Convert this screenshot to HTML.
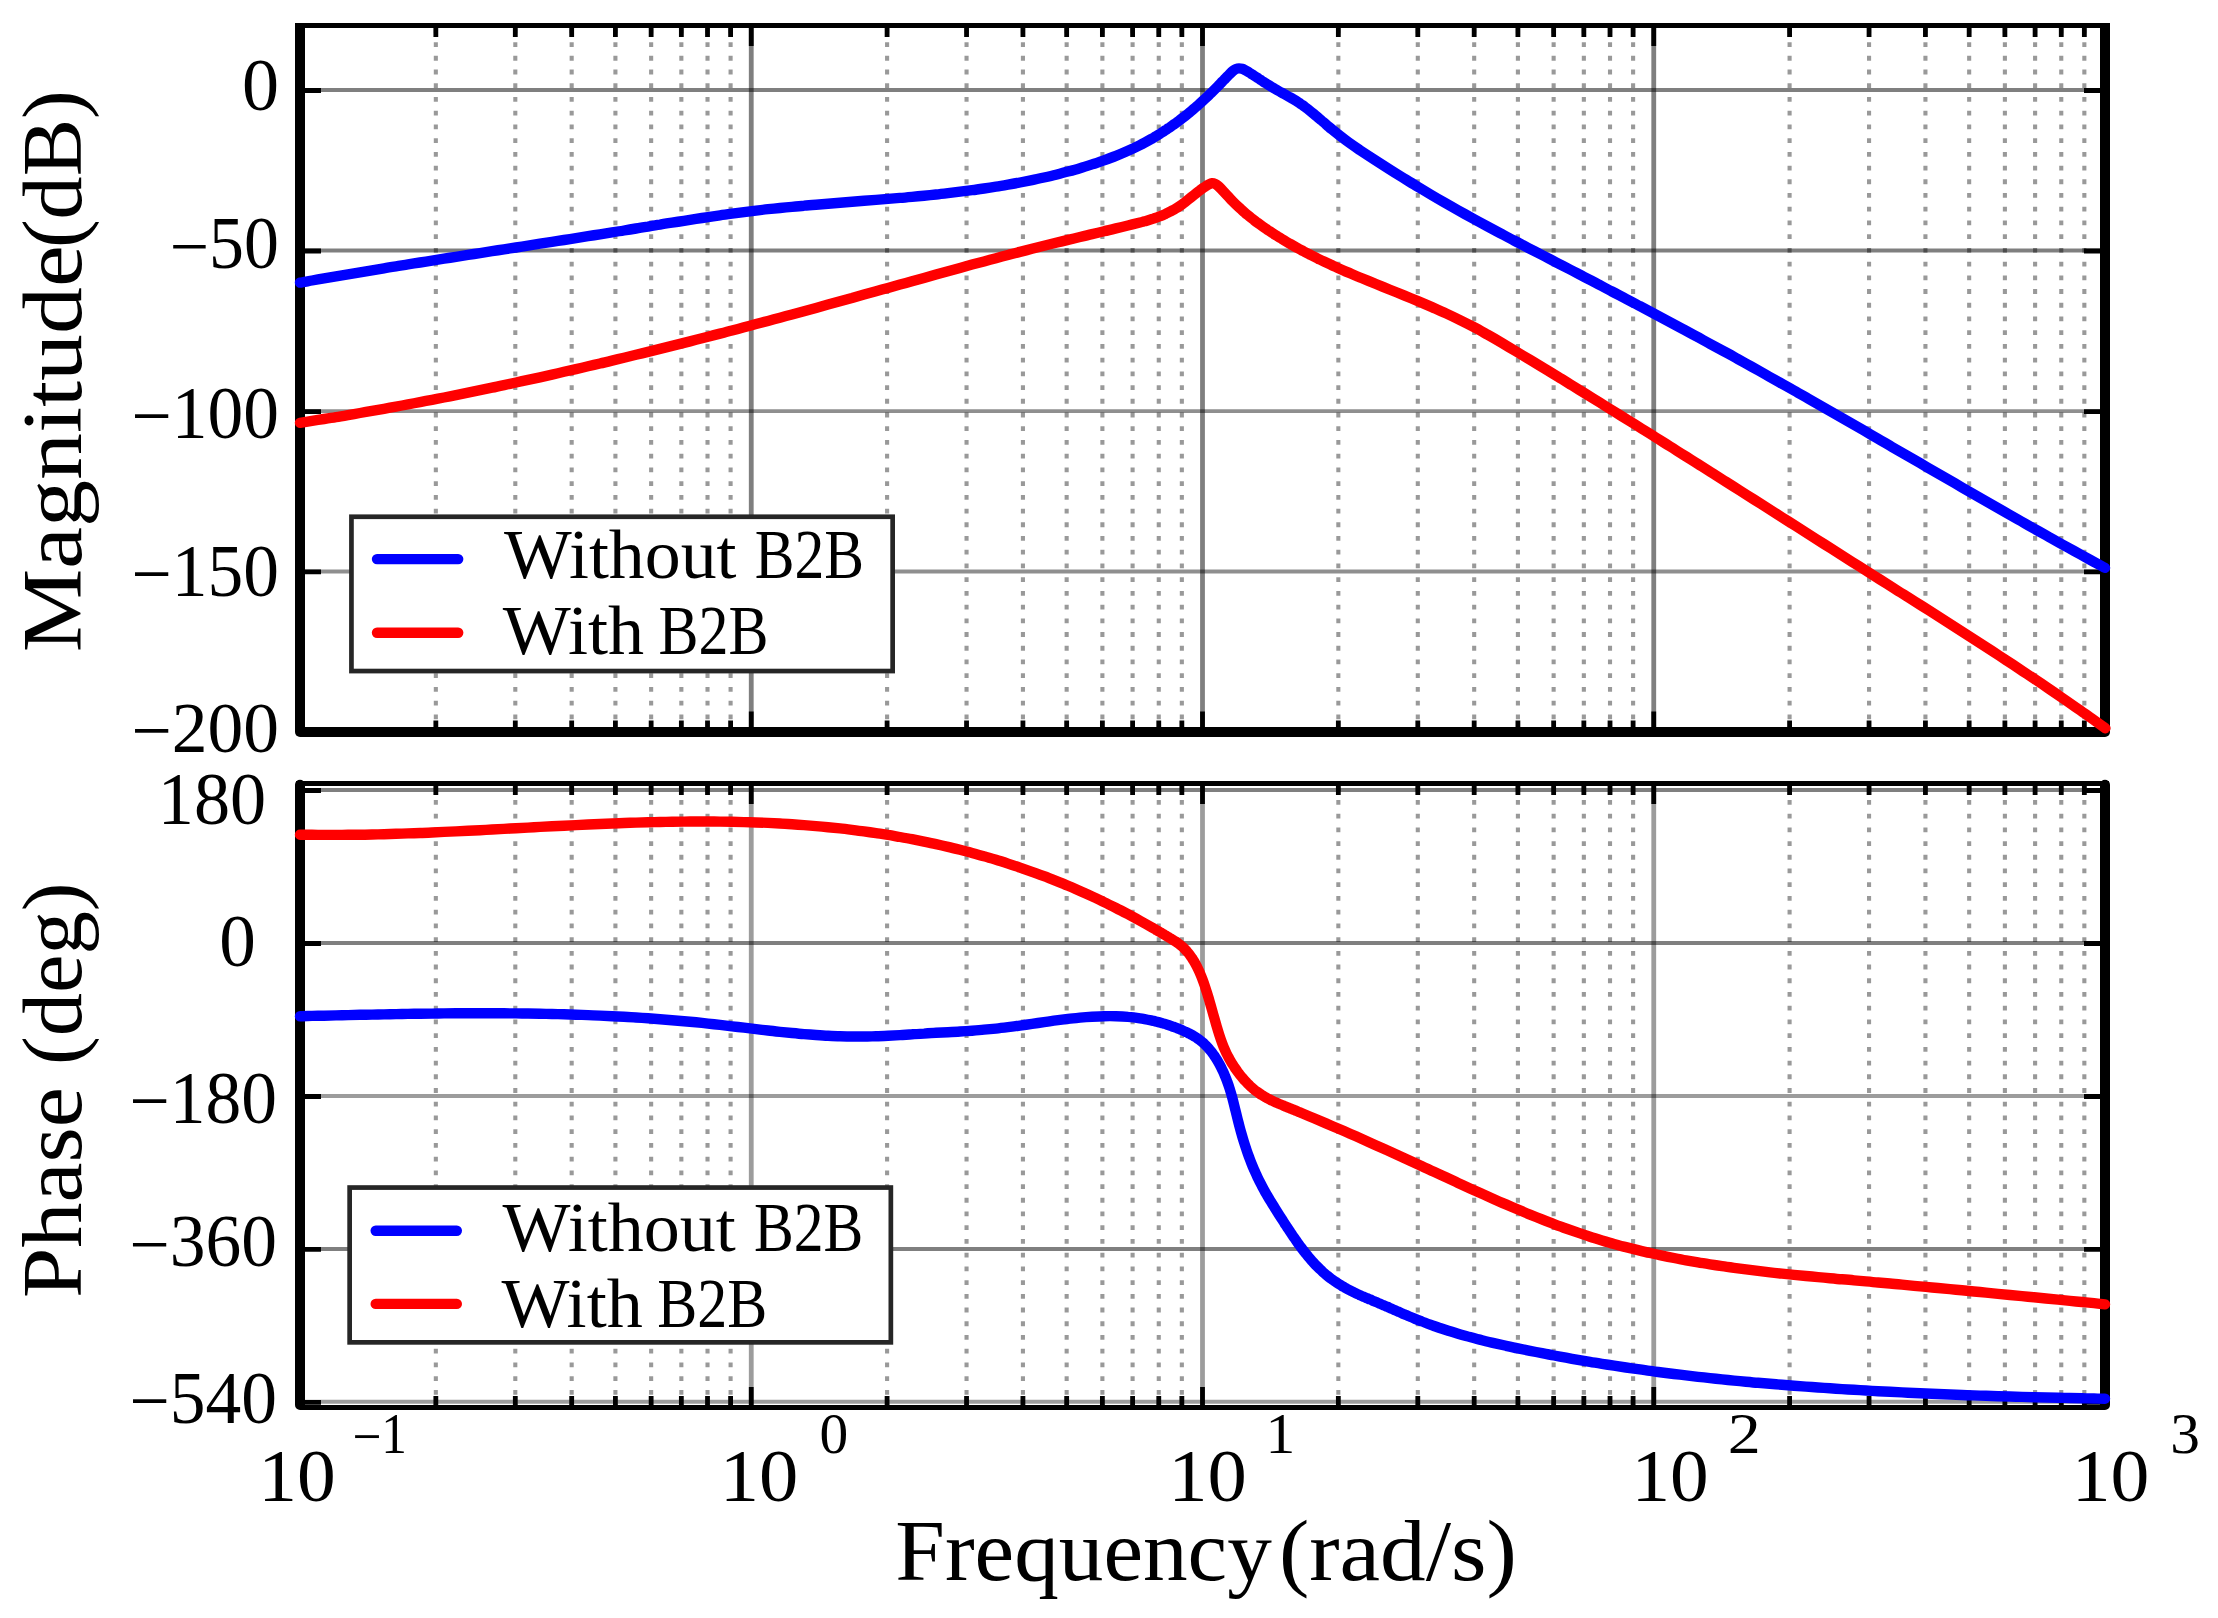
<!DOCTYPE html>
<html lang="en"><head><meta charset="utf-8"><title>Bode plot</title>
<style>html,body{margin:0;padding:0;background:#fff}svg{display:block}text{font-family:"Liberation Serif","DejaVu Serif",serif;fill:#000}</style></head><body>
<svg width="2218" height="1618" viewBox="0 0 2218 1618">
<rect width="2218" height="1618" fill="#fff"/>
<g id="mag">
<line x1="435.84" y1="732.95" x2="435.84" y2="25.50" stroke="#000" stroke-opacity="0.4" stroke-width="4.1" stroke-dasharray="4.8 8.92"/>
<line x1="515.30" y1="732.95" x2="515.30" y2="25.50" stroke="#000" stroke-opacity="0.4" stroke-width="4.1" stroke-dasharray="4.8 8.92"/>
<line x1="571.68" y1="732.95" x2="571.68" y2="25.50" stroke="#000" stroke-opacity="0.4" stroke-width="4.1" stroke-dasharray="4.8 8.92"/>
<line x1="615.41" y1="732.95" x2="615.41" y2="25.50" stroke="#000" stroke-opacity="0.4" stroke-width="4.1" stroke-dasharray="4.8 8.92"/>
<line x1="651.14" y1="732.95" x2="651.14" y2="25.50" stroke="#000" stroke-opacity="0.4" stroke-width="4.1" stroke-dasharray="4.8 8.92"/>
<line x1="681.35" y1="732.95" x2="681.35" y2="25.50" stroke="#000" stroke-opacity="0.4" stroke-width="4.1" stroke-dasharray="4.8 8.92"/>
<line x1="707.52" y1="732.95" x2="707.52" y2="25.50" stroke="#000" stroke-opacity="0.4" stroke-width="4.1" stroke-dasharray="4.8 8.92"/>
<line x1="730.60" y1="732.95" x2="730.60" y2="25.50" stroke="#000" stroke-opacity="0.4" stroke-width="4.1" stroke-dasharray="4.8 8.92"/>
<line x1="887.09" y1="732.95" x2="887.09" y2="25.50" stroke="#000" stroke-opacity="0.4" stroke-width="4.1" stroke-dasharray="4.8 8.92"/>
<line x1="966.55" y1="732.95" x2="966.55" y2="25.50" stroke="#000" stroke-opacity="0.4" stroke-width="4.1" stroke-dasharray="4.8 8.92"/>
<line x1="1022.93" y1="732.95" x2="1022.93" y2="25.50" stroke="#000" stroke-opacity="0.4" stroke-width="4.1" stroke-dasharray="4.8 8.92"/>
<line x1="1066.66" y1="732.95" x2="1066.66" y2="25.50" stroke="#000" stroke-opacity="0.4" stroke-width="4.1" stroke-dasharray="4.8 8.92"/>
<line x1="1102.39" y1="732.95" x2="1102.39" y2="25.50" stroke="#000" stroke-opacity="0.4" stroke-width="4.1" stroke-dasharray="4.8 8.92"/>
<line x1="1132.60" y1="732.95" x2="1132.60" y2="25.50" stroke="#000" stroke-opacity="0.4" stroke-width="4.1" stroke-dasharray="4.8 8.92"/>
<line x1="1158.77" y1="732.95" x2="1158.77" y2="25.50" stroke="#000" stroke-opacity="0.4" stroke-width="4.1" stroke-dasharray="4.8 8.92"/>
<line x1="1181.85" y1="732.95" x2="1181.85" y2="25.50" stroke="#000" stroke-opacity="0.4" stroke-width="4.1" stroke-dasharray="4.8 8.92"/>
<line x1="1338.34" y1="732.95" x2="1338.34" y2="25.50" stroke="#000" stroke-opacity="0.4" stroke-width="4.1" stroke-dasharray="4.8 8.92"/>
<line x1="1417.80" y1="732.95" x2="1417.80" y2="25.50" stroke="#000" stroke-opacity="0.4" stroke-width="4.1" stroke-dasharray="4.8 8.92"/>
<line x1="1474.18" y1="732.95" x2="1474.18" y2="25.50" stroke="#000" stroke-opacity="0.4" stroke-width="4.1" stroke-dasharray="4.8 8.92"/>
<line x1="1517.91" y1="732.95" x2="1517.91" y2="25.50" stroke="#000" stroke-opacity="0.4" stroke-width="4.1" stroke-dasharray="4.8 8.92"/>
<line x1="1553.64" y1="732.95" x2="1553.64" y2="25.50" stroke="#000" stroke-opacity="0.4" stroke-width="4.1" stroke-dasharray="4.8 8.92"/>
<line x1="1583.85" y1="732.95" x2="1583.85" y2="25.50" stroke="#000" stroke-opacity="0.4" stroke-width="4.1" stroke-dasharray="4.8 8.92"/>
<line x1="1610.02" y1="732.95" x2="1610.02" y2="25.50" stroke="#000" stroke-opacity="0.4" stroke-width="4.1" stroke-dasharray="4.8 8.92"/>
<line x1="1633.10" y1="732.95" x2="1633.10" y2="25.50" stroke="#000" stroke-opacity="0.4" stroke-width="4.1" stroke-dasharray="4.8 8.92"/>
<line x1="1789.59" y1="732.95" x2="1789.59" y2="25.50" stroke="#000" stroke-opacity="0.4" stroke-width="4.1" stroke-dasharray="4.8 8.92"/>
<line x1="1869.05" y1="732.95" x2="1869.05" y2="25.50" stroke="#000" stroke-opacity="0.4" stroke-width="4.1" stroke-dasharray="4.8 8.92"/>
<line x1="1925.43" y1="732.95" x2="1925.43" y2="25.50" stroke="#000" stroke-opacity="0.4" stroke-width="4.1" stroke-dasharray="4.8 8.92"/>
<line x1="1969.16" y1="732.95" x2="1969.16" y2="25.50" stroke="#000" stroke-opacity="0.4" stroke-width="4.1" stroke-dasharray="4.8 8.92"/>
<line x1="2004.89" y1="732.95" x2="2004.89" y2="25.50" stroke="#000" stroke-opacity="0.4" stroke-width="4.1" stroke-dasharray="4.8 8.92"/>
<line x1="2035.10" y1="732.95" x2="2035.10" y2="25.50" stroke="#000" stroke-opacity="0.4" stroke-width="4.1" stroke-dasharray="4.8 8.92"/>
<line x1="2061.27" y1="732.95" x2="2061.27" y2="25.50" stroke="#000" stroke-opacity="0.4" stroke-width="4.1" stroke-dasharray="4.8 8.92"/>
<line x1="2084.35" y1="732.95" x2="2084.35" y2="25.50" stroke="#000" stroke-opacity="0.4" stroke-width="4.1" stroke-dasharray="4.8 8.92"/>
<line x1="751.25" y1="732.00" x2="751.25" y2="25.50" stroke="#000" stroke-opacity="0.5" stroke-width="4.8"/>
<line x1="1202.50" y1="732.00" x2="1202.50" y2="25.50" stroke="#000" stroke-opacity="0.5" stroke-width="4.8"/>
<line x1="1653.75" y1="732.00" x2="1653.75" y2="25.50" stroke="#000" stroke-opacity="0.5" stroke-width="4.8"/>
<line x1="300.0" y1="90.00" x2="2105.0" y2="90.00" stroke="#000" stroke-opacity="0.5" stroke-width="3.95"/>
<line x1="300.0" y1="250.50" x2="2105.0" y2="250.50" stroke="#000" stroke-opacity="0.5" stroke-width="3.95"/>
<line x1="300.0" y1="411.10" x2="2105.0" y2="411.10" stroke="#000" stroke-opacity="0.44" stroke-width="3.95"/>
<line x1="300.0" y1="571.40" x2="2105.0" y2="571.40" stroke="#000" stroke-opacity="0.44" stroke-width="3.95"/>
<path d="M300.0,23.00V732.00M2105.0,23.00V732.00" stroke="#000" stroke-width="10" fill="none"/>
<circle cx="300.0" cy="732.00" r="5"/><circle cx="2105.0" cy="732.00" r="5"/>
<path d="M296.0,25.5H2109.0" stroke="#000" stroke-width="5" fill="none"/>
<path d="M300.0,732.0H2105.0" stroke="#000" stroke-width="10" fill="none"/>
<path d="M435.84,25.5v11.5M435.84,732.0v-11.5" stroke="#000" stroke-width="4.8"/>
<path d="M515.30,25.5v11.5M515.30,732.0v-11.5" stroke="#000" stroke-width="4.8"/>
<path d="M571.68,25.5v11.5M571.68,732.0v-11.5" stroke="#000" stroke-width="4.8"/>
<path d="M615.41,25.5v11.5M615.41,732.0v-11.5" stroke="#000" stroke-width="4.8"/>
<path d="M651.14,25.5v11.5M651.14,732.0v-11.5" stroke="#000" stroke-width="4.8"/>
<path d="M681.35,25.5v11.5M681.35,732.0v-11.5" stroke="#000" stroke-width="4.8"/>
<path d="M707.52,25.5v11.5M707.52,732.0v-11.5" stroke="#000" stroke-width="4.8"/>
<path d="M730.60,25.5v11.5M730.60,732.0v-11.5" stroke="#000" stroke-width="4.8"/>
<path d="M887.09,25.5v11.5M887.09,732.0v-11.5" stroke="#000" stroke-width="4.8"/>
<path d="M966.55,25.5v11.5M966.55,732.0v-11.5" stroke="#000" stroke-width="4.8"/>
<path d="M1022.93,25.5v11.5M1022.93,732.0v-11.5" stroke="#000" stroke-width="4.8"/>
<path d="M1066.66,25.5v11.5M1066.66,732.0v-11.5" stroke="#000" stroke-width="4.8"/>
<path d="M1102.39,25.5v11.5M1102.39,732.0v-11.5" stroke="#000" stroke-width="4.8"/>
<path d="M1132.60,25.5v11.5M1132.60,732.0v-11.5" stroke="#000" stroke-width="4.8"/>
<path d="M1158.77,25.5v11.5M1158.77,732.0v-11.5" stroke="#000" stroke-width="4.8"/>
<path d="M1181.85,25.5v11.5M1181.85,732.0v-11.5" stroke="#000" stroke-width="4.8"/>
<path d="M1338.34,25.5v11.5M1338.34,732.0v-11.5" stroke="#000" stroke-width="4.8"/>
<path d="M1417.80,25.5v11.5M1417.80,732.0v-11.5" stroke="#000" stroke-width="4.8"/>
<path d="M1474.18,25.5v11.5M1474.18,732.0v-11.5" stroke="#000" stroke-width="4.8"/>
<path d="M1517.91,25.5v11.5M1517.91,732.0v-11.5" stroke="#000" stroke-width="4.8"/>
<path d="M1553.64,25.5v11.5M1553.64,732.0v-11.5" stroke="#000" stroke-width="4.8"/>
<path d="M1583.85,25.5v11.5M1583.85,732.0v-11.5" stroke="#000" stroke-width="4.8"/>
<path d="M1610.02,25.5v11.5M1610.02,732.0v-11.5" stroke="#000" stroke-width="4.8"/>
<path d="M1633.10,25.5v11.5M1633.10,732.0v-11.5" stroke="#000" stroke-width="4.8"/>
<path d="M1789.59,25.5v11.5M1789.59,732.0v-11.5" stroke="#000" stroke-width="4.8"/>
<path d="M1869.05,25.5v11.5M1869.05,732.0v-11.5" stroke="#000" stroke-width="4.8"/>
<path d="M1925.43,25.5v11.5M1925.43,732.0v-11.5" stroke="#000" stroke-width="4.8"/>
<path d="M1969.16,25.5v11.5M1969.16,732.0v-11.5" stroke="#000" stroke-width="4.8"/>
<path d="M2004.89,25.5v11.5M2004.89,732.0v-11.5" stroke="#000" stroke-width="4.8"/>
<path d="M2035.10,25.5v11.5M2035.10,732.0v-11.5" stroke="#000" stroke-width="4.8"/>
<path d="M2061.27,25.5v11.5M2061.27,732.0v-11.5" stroke="#000" stroke-width="4.8"/>
<path d="M2084.35,25.5v11.5M2084.35,732.0v-11.5" stroke="#000" stroke-width="4.8"/>
<path d="M751.25,25.5v20.5M751.25,732.0v-20.5" stroke="#000" stroke-width="4.8"/>
<path d="M1202.50,25.5v20.5M1202.50,732.0v-20.5" stroke="#000" stroke-width="4.8"/>
<path d="M1653.75,25.5v20.5M1653.75,732.0v-20.5" stroke="#000" stroke-width="4.8"/>
<path d="M300.0,90.50h21.0M2105.0,90.50h-21.0" stroke="#000" stroke-width="4.8"/>
<path d="M300.0,251.00h21.0M2105.0,251.00h-21.0" stroke="#000" stroke-width="4.8"/>
<path d="M300.0,411.60h21.0M2105.0,411.60h-21.0" stroke="#000" stroke-width="4.8"/>
<path d="M300.0,571.90h21.0M2105.0,571.90h-21.0" stroke="#000" stroke-width="4.8"/>
<path d="M300.0,282.6C302.0,282.2 308.0,281.2 312.0,280.5C316.0,279.8 320.0,279.1 324.0,278.4C328.0,277.7 332.0,277.0 336.0,276.3C340.0,275.6 344.0,275.0 348.0,274.3C352.0,273.6 356.0,273.0 360.0,272.3C364.0,271.6 368.0,271.0 372.0,270.3C376.0,269.6 380.0,269.0 384.0,268.3C388.0,267.6 392.0,267.0 396.0,266.4C400.0,265.8 404.0,265.0 408.0,264.4C412.0,263.8 416.0,263.1 420.0,262.5C424.0,261.9 428.0,261.2 432.0,260.6C436.0,260.0 440.0,259.3 444.0,258.7C448.0,258.1 452.0,257.4 456.0,256.8C460.0,256.2 464.0,255.5 468.0,254.9C472.0,254.3 476.0,253.7 480.0,253.1C484.0,252.5 488.0,251.8 492.0,251.2C496.0,250.6 500.0,249.9 504.0,249.3C508.0,248.7 512.0,248.1 516.0,247.5C520.0,246.9 524.0,246.2 528.0,245.6C532.0,245.0 536.0,244.3 540.0,243.7C544.0,243.1 548.0,242.5 552.0,241.9C556.0,241.3 560.0,240.6 564.0,240.0C568.0,239.4 572.0,238.7 576.0,238.1C580.0,237.5 584.0,236.8 588.0,236.2C592.0,235.6 596.0,234.9 600.0,234.3C604.0,233.7 608.0,233.0 612.0,232.4C616.0,231.8 620.0,231.2 624.0,230.5C628.0,229.8 632.0,229.2 636.0,228.5C640.0,227.8 644.0,227.2 648.0,226.6C652.0,225.9 656.0,225.2 660.0,224.6C664.0,223.9 668.0,223.3 672.0,222.7C676.0,222.1 680.0,221.4 684.0,220.8C688.0,220.2 692.0,219.5 696.0,218.9C700.0,218.3 704.0,217.7 708.0,217.1C712.0,216.5 716.0,215.9 720.0,215.3C724.0,214.7 728.0,214.2 732.0,213.7C736.0,213.2 740.0,212.6 744.0,212.1C748.0,211.6 752.0,211.1 756.0,210.6C760.0,210.1 764.0,209.6 768.0,209.2C772.0,208.8 776.0,208.4 780.0,208.0C784.0,207.6 788.0,207.2 792.0,206.8C796.0,206.4 800.0,206.0 804.0,205.7C808.0,205.3 812.0,205.0 816.0,204.7C820.0,204.4 824.0,204.0 828.0,203.7C832.0,203.4 836.0,203.0 840.0,202.7C844.0,202.4 848.0,202.1 852.0,201.8C856.0,201.5 860.0,201.1 864.0,200.8C868.0,200.5 872.0,200.2 876.0,199.9C880.0,199.6 884.0,199.2 888.0,198.9C892.0,198.6 896.0,198.2 900.0,197.9C904.0,197.6 908.0,197.2 912.0,196.8C916.0,196.4 920.0,196.1 924.0,195.7C928.0,195.3 932.0,194.9 936.0,194.5C940.0,194.1 944.0,193.6 948.0,193.1C952.0,192.6 956.0,192.2 960.0,191.7C964.0,191.2 968.0,190.7 972.0,190.2C976.0,189.7 980.0,189.1 984.0,188.5C988.0,187.9 992.0,187.3 996.0,186.7C1000.0,186.1 1004.0,185.4 1008.0,184.7C1012.0,184.0 1016.0,183.3 1020.0,182.5C1024.0,181.7 1028.0,180.9 1032.0,180.1C1036.0,179.3 1040.0,178.4 1044.0,177.5C1048.0,176.6 1052.0,175.7 1056.0,174.7C1060.0,173.7 1064.0,172.7 1068.0,171.6C1072.0,170.5 1076.0,169.4 1080.0,168.2C1084.0,167.0 1088.0,165.7 1092.0,164.4C1096.0,163.1 1100.0,161.7 1104.0,160.3C1108.0,158.9 1112.0,157.5 1116.0,155.9C1120.0,154.3 1124.0,152.6 1128.0,150.8C1132.0,149.0 1136.0,147.1 1140.0,145.1C1144.0,143.1 1149.5,140.0 1152.0,138.6C1154.5,137.2 1154.0,137.4 1155.0,136.8C1156.0,136.2 1157.0,135.6 1158.0,135.0C1159.0,134.4 1160.0,133.7 1161.0,133.1C1162.0,132.5 1163.0,131.8 1164.0,131.2C1165.0,130.5 1166.0,129.9 1167.0,129.2C1168.0,128.5 1169.0,127.9 1170.0,127.2C1171.0,126.5 1172.0,125.8 1173.0,125.1C1174.0,124.4 1175.0,123.6 1176.0,122.9C1177.0,122.2 1178.0,121.5 1179.0,120.7C1180.0,120.0 1181.0,119.2 1182.0,118.4C1183.0,117.6 1184.0,116.9 1185.0,116.1C1186.0,115.3 1187.0,114.5 1188.0,113.7C1189.0,112.9 1190.0,112.0 1191.0,111.2C1192.0,110.4 1193.0,109.6 1194.0,108.7C1195.0,107.8 1196.0,107.0 1197.0,106.1C1198.0,105.2 1199.0,104.3 1200.0,103.4C1201.0,102.5 1202.0,101.6 1203.0,100.7C1204.0,99.8 1205.0,98.9 1206.0,97.9C1207.0,97.0 1208.0,96.0 1209.0,95.0C1210.0,94.0 1211.0,93.1 1212.0,92.1C1213.0,91.1 1214.0,90.1 1215.0,89.1C1216.0,88.1 1217.0,87.1 1218.0,86.1C1219.0,85.1 1220.0,84.0 1221.0,83.0C1222.0,82.0 1223.0,80.9 1224.0,79.9C1225.0,78.9 1226.0,77.8 1227.0,76.8C1228.0,75.8 1229.0,74.7 1230.0,73.7C1231.0,72.7 1232.0,71.7 1233.0,70.9C1234.0,70.1 1235.0,69.4 1236.0,69.0C1237.0,68.6 1238.0,68.4 1239.0,68.4C1240.0,68.4 1241.0,68.5 1242.0,68.8C1243.0,69.1 1244.0,69.6 1245.0,70.1C1246.0,70.6 1247.0,71.2 1248.0,71.8C1249.0,72.4 1250.0,73.1 1251.0,73.7C1252.0,74.3 1253.0,75.0 1254.0,75.6C1255.0,76.2 1256.0,76.8 1257.0,77.5C1258.0,78.2 1259.0,78.8 1260.0,79.5C1261.0,80.2 1262.0,80.8 1263.0,81.5C1264.0,82.2 1265.0,82.8 1266.0,83.4C1267.0,84.0 1268.0,84.7 1269.0,85.3C1270.0,85.9 1271.0,86.5 1272.0,87.1C1273.0,87.7 1274.0,88.3 1275.0,88.9C1276.0,89.5 1277.0,90.0 1278.0,90.6C1279.0,91.2 1280.0,91.8 1281.0,92.3C1282.0,92.8 1283.0,93.4 1284.0,93.9C1285.0,94.5 1286.0,95.0 1287.0,95.6C1288.0,96.2 1289.0,96.7 1290.0,97.3C1291.0,97.9 1292.0,98.4 1293.0,99.0C1294.0,99.6 1295.0,100.2 1296.0,100.8C1297.0,101.4 1298.0,102.1 1299.0,102.8C1300.0,103.5 1301.0,104.1 1302.0,104.8C1303.0,105.5 1304.0,106.2 1305.0,107.0C1306.0,107.8 1307.0,108.5 1308.0,109.3C1309.0,110.1 1310.0,110.9 1311.0,111.7C1312.0,112.5 1313.0,113.3 1314.0,114.1C1315.0,114.9 1316.0,115.8 1317.0,116.7C1318.0,117.6 1319.0,118.4 1320.0,119.2C1321.0,120.0 1322.0,121.0 1323.0,121.8C1324.0,122.6 1325.0,123.4 1326.0,124.3C1327.0,125.2 1328.0,126.1 1329.0,126.9C1330.0,127.8 1329.2,127.2 1332.0,129.4C1334.8,131.7 1341.3,136.9 1346.0,140.4C1350.7,143.9 1355.3,147.0 1360.0,150.2C1364.7,153.3 1369.3,156.3 1374.0,159.3C1378.7,162.3 1383.3,165.3 1388.0,168.3C1392.7,171.3 1397.3,174.2 1402.0,177.1C1406.7,180.0 1411.3,182.9 1416.0,185.7C1420.7,188.5 1425.3,191.3 1430.0,194.1C1434.7,196.9 1439.3,199.6 1444.0,202.3C1448.7,205.0 1453.3,207.6 1458.0,210.2C1462.7,212.8 1467.3,215.4 1472.0,218.0C1476.7,220.6 1481.3,223.1 1486.0,225.6C1490.7,228.1 1495.3,230.6 1500.0,233.1C1504.7,235.6 1509.3,238.1 1514.0,240.5C1518.7,242.9 1523.3,245.4 1528.0,247.8C1532.7,250.2 1537.3,252.6 1542.0,255.0C1546.7,257.4 1551.3,259.9 1556.0,262.3C1560.7,264.7 1565.3,267.1 1570.0,269.5C1574.7,271.9 1579.3,274.4 1584.0,276.8C1588.7,279.2 1593.3,281.7 1598.0,284.1C1602.7,286.6 1607.3,289.1 1612.0,291.5C1616.7,293.9 1621.3,296.4 1626.0,298.8C1630.7,301.2 1635.3,303.7 1640.0,306.2C1644.7,308.7 1649.3,311.2 1654.0,313.7C1658.7,316.2 1663.3,318.6 1668.0,321.1C1672.7,323.6 1677.3,326.1 1682.0,328.6C1686.7,331.1 1691.3,333.7 1696.0,336.2C1700.7,338.7 1705.3,341.3 1710.0,343.8C1714.7,346.3 1719.3,348.8 1724.0,351.4C1728.7,353.9 1733.3,356.5 1738.0,359.1C1742.7,361.7 1747.3,364.3 1752.0,366.9C1756.7,369.5 1761.3,372.1 1766.0,374.7C1770.7,377.3 1775.3,380.0 1780.0,382.6C1784.7,385.2 1789.3,387.9 1794.0,390.5C1798.7,393.1 1803.3,395.8 1808.0,398.5C1812.7,401.2 1817.3,403.8 1822.0,406.5C1826.7,409.2 1831.3,411.8 1836.0,414.5C1840.7,417.2 1845.3,419.9 1850.0,422.6C1854.7,425.3 1859.3,427.9 1864.0,430.6C1868.7,433.3 1873.3,436.0 1878.0,438.7C1882.7,441.4 1887.3,444.2 1892.0,446.9C1896.7,449.6 1901.3,452.3 1906.0,455.0C1910.7,457.7 1915.3,460.4 1920.0,463.1C1924.7,465.8 1929.3,468.5 1934.0,471.2C1938.7,473.9 1943.3,476.6 1948.0,479.3C1952.7,482.0 1957.3,484.7 1962.0,487.4C1966.7,490.1 1971.3,492.8 1976.0,495.5C1980.7,498.2 1985.3,500.8 1990.0,503.5C1994.7,506.2 1999.3,508.9 2004.0,511.6C2008.7,514.3 2013.3,516.9 2018.0,519.5C2022.7,522.1 2027.3,524.9 2032.0,527.5C2036.7,530.1 2041.3,532.7 2046.0,535.3C2050.7,537.9 2055.3,540.6 2060.0,543.2C2064.7,545.8 2069.3,548.3 2074.0,550.9C2078.7,553.5 2083.3,556.0 2088.0,558.6C2092.7,561.2 2099.2,564.8 2102.0,566.3C2104.8,567.8 2104.5,567.6 2105.0,567.9" fill="none" stroke="#0000ff" stroke-width="10.4" stroke-linecap="round" stroke-linejoin="round"/>
<path d="M300.0,422.8C302.0,422.5 308.0,421.5 312.0,420.9C316.0,420.3 320.0,419.6 324.0,419.0C328.0,418.4 332.0,417.8 336.0,417.1C340.0,416.5 344.0,415.8 348.0,415.1C352.0,414.4 356.0,413.7 360.0,413.0C364.0,412.3 368.0,411.6 372.0,410.9C376.0,410.2 380.0,409.5 384.0,408.8C388.0,408.1 392.0,407.3 396.0,406.6C400.0,405.9 404.0,405.1 408.0,404.4C412.0,403.6 416.0,402.9 420.0,402.1C424.0,401.3 428.0,400.6 432.0,399.8C436.0,399.0 440.0,398.3 444.0,397.5C448.0,396.7 452.0,395.9 456.0,395.1C460.0,394.3 464.0,393.5 468.0,392.7C472.0,391.9 476.0,391.0 480.0,390.2C484.0,389.4 488.0,388.5 492.0,387.7C496.0,386.9 500.0,386.0 504.0,385.1C508.0,384.2 512.0,383.4 516.0,382.5C520.0,381.6 524.0,380.8 528.0,379.9C532.0,379.0 536.0,378.2 540.0,377.3C544.0,376.4 548.0,375.5 552.0,374.6C556.0,373.7 560.0,372.7 564.0,371.8C568.0,370.9 572.0,370.0 576.0,369.1C580.0,368.2 584.0,367.2 588.0,366.3C592.0,365.4 596.0,364.4 600.0,363.5C604.0,362.6 608.0,361.6 612.0,360.6C616.0,359.6 620.0,358.7 624.0,357.7C628.0,356.7 632.0,355.8 636.0,354.8C640.0,353.8 644.0,352.9 648.0,351.9C652.0,350.9 656.0,349.9 660.0,348.9C664.0,347.9 668.0,346.9 672.0,345.9C676.0,344.9 680.0,343.9 684.0,342.9C688.0,341.9 692.0,340.8 696.0,339.8C700.0,338.8 704.0,337.7 708.0,336.7C712.0,335.7 716.0,334.6 720.0,333.6C724.0,332.6 728.0,331.6 732.0,330.5C736.0,329.4 740.0,328.4 744.0,327.3C748.0,326.2 752.0,325.2 756.0,324.1C760.0,323.0 764.0,322.0 768.0,320.9C772.0,319.8 776.0,318.8 780.0,317.7C784.0,316.6 788.0,315.6 792.0,314.5C796.0,313.4 800.0,312.3 804.0,311.2C808.0,310.1 812.0,309.0 816.0,307.9C820.0,306.8 824.0,305.7 828.0,304.6C832.0,303.5 836.0,302.4 840.0,301.3C844.0,300.2 848.0,299.1 852.0,298.0C856.0,296.9 860.0,295.7 864.0,294.6C868.0,293.5 872.0,292.4 876.0,291.3C880.0,290.2 884.0,289.0 888.0,287.9C892.0,286.8 896.0,285.7 900.0,284.6C904.0,283.5 908.0,282.3 912.0,281.2C916.0,280.1 920.0,279.0 924.0,277.9C928.0,276.8 932.0,275.6 936.0,274.5C940.0,273.4 944.0,272.3 948.0,271.2C952.0,270.1 956.0,269.0 960.0,267.9C964.0,266.8 968.0,265.7 972.0,264.6C976.0,263.5 980.0,262.5 984.0,261.4C988.0,260.3 992.0,259.3 996.0,258.2C1000.0,257.1 1004.0,256.1 1008.0,255.0C1012.0,253.9 1016.0,252.9 1020.0,251.9C1024.0,250.9 1028.0,249.8 1032.0,248.8C1036.0,247.8 1040.0,246.8 1044.0,245.8C1048.0,244.8 1052.0,243.8 1056.0,242.8C1060.0,241.8 1064.0,240.9 1068.0,239.9C1072.0,238.9 1076.0,238.0 1080.0,237.0C1084.0,236.0 1088.0,235.0 1092.0,234.1C1096.0,233.2 1100.0,232.2 1104.0,231.3C1108.0,230.4 1112.0,229.4 1116.0,228.4C1120.0,227.4 1124.0,226.5 1128.0,225.5C1132.0,224.5 1137.5,223.1 1140.0,222.5C1142.5,221.9 1142.0,222.0 1143.0,221.7C1144.0,221.4 1145.0,221.2 1146.0,220.9C1147.0,220.6 1148.0,220.3 1149.0,220.0C1150.0,219.7 1151.0,219.4 1152.0,219.1C1153.0,218.8 1154.0,218.4 1155.0,218.1C1156.0,217.8 1157.0,217.4 1158.0,217.0C1159.0,216.6 1160.0,216.3 1161.0,215.9C1162.0,215.5 1163.0,215.1 1164.0,214.6C1165.0,214.1 1166.0,213.7 1167.0,213.2C1168.0,212.7 1169.0,212.2 1170.0,211.7C1171.0,211.2 1172.0,210.6 1173.0,210.1C1174.0,209.6 1175.0,209.0 1176.0,208.4C1177.0,207.8 1178.0,207.2 1179.0,206.5C1180.0,205.8 1181.0,205.1 1182.0,204.4C1183.0,203.7 1184.0,203.0 1185.0,202.2C1186.0,201.4 1187.0,200.6 1188.0,199.8C1189.0,199.0 1190.0,198.2 1191.0,197.4C1192.0,196.6 1193.0,195.8 1194.0,195.0C1195.0,194.2 1196.0,193.4 1197.0,192.6C1198.0,191.8 1199.0,191.1 1200.0,190.3C1201.0,189.6 1202.0,188.8 1203.0,188.1C1204.0,187.4 1205.0,186.7 1206.0,186.1C1207.0,185.5 1208.0,184.8 1209.0,184.3C1210.0,183.8 1211.0,183.3 1212.0,183.2C1213.0,183.1 1214.0,183.4 1215.0,183.9C1216.0,184.4 1217.0,185.1 1218.0,185.9C1219.0,186.7 1220.0,187.7 1221.0,188.7C1222.0,189.7 1223.0,190.8 1224.0,191.9C1225.0,193.0 1226.0,194.1 1227.0,195.2C1228.0,196.3 1229.0,197.4 1230.0,198.5C1231.0,199.6 1232.0,200.6 1233.0,201.6C1234.0,202.6 1235.0,203.6 1236.0,204.6C1237.0,205.6 1238.0,206.5 1239.0,207.4C1240.0,208.3 1241.0,209.3 1242.0,210.2C1243.0,211.1 1244.0,212.0 1245.0,212.8C1246.0,213.7 1247.0,214.5 1248.0,215.3C1249.0,216.1 1250.0,217.0 1251.0,217.8C1252.0,218.6 1253.0,219.3 1254.0,220.1C1255.0,220.9 1256.0,221.7 1257.0,222.4C1258.0,223.2 1259.0,223.9 1260.0,224.6C1261.0,225.3 1262.0,226.0 1263.0,226.7C1264.0,227.4 1265.0,228.1 1266.0,228.8C1267.0,229.5 1268.0,230.1 1269.0,230.8C1270.0,231.5 1271.0,232.2 1272.0,232.8C1273.0,233.5 1274.0,234.1 1275.0,234.7C1276.0,235.3 1277.0,236.0 1278.0,236.6C1279.0,237.2 1280.0,237.8 1281.0,238.4C1282.0,239.0 1283.0,239.7 1284.0,240.3C1285.0,240.9 1286.0,241.5 1287.0,242.1C1288.0,242.7 1289.0,243.2 1290.0,243.8C1291.0,244.4 1292.0,244.9 1293.0,245.5C1294.0,246.1 1295.0,246.6 1296.0,247.2C1297.0,247.8 1298.0,248.3 1299.0,248.9C1300.0,249.5 1301.0,250.0 1302.0,250.5C1303.0,251.0 1304.0,251.6 1305.0,252.1C1306.0,252.6 1307.0,253.1 1308.0,253.6C1309.0,254.1 1310.0,254.7 1311.0,255.2C1312.0,255.7 1313.0,256.2 1314.0,256.7C1315.0,257.2 1316.0,257.7 1317.0,258.2C1318.0,258.7 1317.2,258.3 1320.0,259.6C1322.8,260.9 1329.3,264.1 1334.0,266.2C1338.7,268.3 1343.3,270.4 1348.0,272.4C1352.7,274.4 1357.3,276.4 1362.0,278.3C1366.7,280.2 1371.3,282.1 1376.0,284.0C1380.7,285.9 1385.3,287.8 1390.0,289.7C1394.7,291.6 1399.3,293.5 1404.0,295.4C1408.7,297.3 1413.3,299.2 1418.0,301.1C1422.7,303.1 1427.3,305.1 1432.0,307.1C1436.7,309.2 1441.3,311.2 1446.0,313.4C1450.7,315.6 1455.3,317.8 1460.0,320.1C1464.7,322.4 1469.3,324.7 1474.0,327.2C1478.7,329.7 1483.3,332.3 1488.0,334.9C1492.7,337.5 1497.3,340.2 1502.0,343.0C1506.7,345.8 1511.3,348.6 1516.0,351.4C1520.7,354.2 1525.3,357.0 1530.0,359.8C1534.7,362.6 1539.3,365.5 1544.0,368.3C1548.7,371.1 1553.3,374.0 1558.0,376.8C1562.7,379.6 1567.3,382.5 1572.0,385.4C1576.7,388.3 1581.3,391.1 1586.0,394.0C1590.7,396.9 1595.3,399.8 1600.0,402.7C1604.7,405.6 1609.3,408.5 1614.0,411.4C1618.7,414.3 1623.3,417.2 1628.0,420.1C1632.7,423.0 1637.3,425.9 1642.0,428.8C1646.7,431.7 1651.3,434.7 1656.0,437.6C1660.7,440.5 1665.3,443.5 1670.0,446.4C1674.7,449.3 1679.3,452.3 1684.0,455.2C1688.7,458.1 1693.3,461.1 1698.0,464.0C1702.7,466.9 1707.3,469.9 1712.0,472.9C1716.7,475.9 1721.3,478.9 1726.0,481.8C1730.7,484.8 1735.3,487.7 1740.0,490.6C1744.7,493.6 1749.3,496.5 1754.0,499.5C1758.7,502.5 1763.3,505.4 1768.0,508.4C1772.7,511.4 1777.3,514.3 1782.0,517.3C1786.7,520.3 1791.3,523.2 1796.0,526.2C1800.7,529.2 1805.3,532.1 1810.0,535.1C1814.7,538.1 1819.3,541.0 1824.0,544.0C1828.7,547.0 1833.3,549.9 1838.0,552.9C1842.7,555.9 1847.3,558.8 1852.0,561.8C1856.7,564.8 1861.3,567.6 1866.0,570.6C1870.7,573.6 1875.3,576.5 1880.0,579.5C1884.7,582.5 1889.3,585.3 1894.0,588.3C1898.7,591.2 1903.3,594.2 1908.0,597.2C1912.7,600.2 1917.3,603.0 1922.0,606.0C1926.7,609.0 1931.3,611.9 1936.0,614.9C1940.7,617.9 1945.3,620.8 1950.0,623.8C1954.7,626.8 1959.3,629.8 1964.0,632.8C1968.7,635.8 1973.3,638.8 1978.0,641.8C1982.7,644.8 1987.3,647.8 1992.0,650.9C1996.7,654.0 2001.3,657.0 2006.0,660.1C2010.7,663.2 2015.3,666.2 2020.0,669.3C2024.7,672.4 2029.3,675.6 2034.0,678.7C2038.7,681.8 2043.3,684.9 2048.0,688.1C2052.7,691.3 2057.3,694.5 2062.0,697.7C2066.7,700.9 2071.3,704.1 2076.0,707.4C2080.7,710.6 2085.3,713.9 2090.0,717.2C2094.7,720.5 2101.5,725.4 2104.0,727.2C2106.5,729.0 2104.8,727.8 2105.0,727.9" fill="none" stroke="#ff0000" stroke-width="10.4" stroke-linecap="round" stroke-linejoin="round"/>
<rect x="351.45" y="516.75" width="541.20" height="154.30" fill="#fff" stroke="#262626" stroke-width="4.7"/>
<path d="M377.00,559.10H458.20" stroke="#0000ff" stroke-width="10.4" stroke-linecap="round"/>
<path d="M377.00,632.80H458.20" stroke="#ff0000" stroke-width="10.4" stroke-linecap="round"/>
<text transform="translate(504.10,578.20) scale(1.0291,1)" font-size="69.77">Without</text><text transform="translate(754.71,578.20) scale(0.8542,1)" font-size="69.77">B2B</text>
<text transform="translate(502.80,654.20) scale(1.0295,1)" font-size="70.08">With</text><text transform="translate(658.60,654.20) scale(0.8554,1)" font-size="70.08">B2B</text>
</g>
<g id="phase">
<line x1="435.84" y1="1408.45" x2="435.84" y2="783.50" stroke="#000" stroke-opacity="0.4" stroke-width="4.1" stroke-dasharray="4.8 8.92"/>
<line x1="515.30" y1="1408.45" x2="515.30" y2="783.50" stroke="#000" stroke-opacity="0.4" stroke-width="4.1" stroke-dasharray="4.8 8.92"/>
<line x1="571.68" y1="1408.45" x2="571.68" y2="783.50" stroke="#000" stroke-opacity="0.4" stroke-width="4.1" stroke-dasharray="4.8 8.92"/>
<line x1="615.41" y1="1408.45" x2="615.41" y2="783.50" stroke="#000" stroke-opacity="0.4" stroke-width="4.1" stroke-dasharray="4.8 8.92"/>
<line x1="651.14" y1="1408.45" x2="651.14" y2="783.50" stroke="#000" stroke-opacity="0.4" stroke-width="4.1" stroke-dasharray="4.8 8.92"/>
<line x1="681.35" y1="1408.45" x2="681.35" y2="783.50" stroke="#000" stroke-opacity="0.4" stroke-width="4.1" stroke-dasharray="4.8 8.92"/>
<line x1="707.52" y1="1408.45" x2="707.52" y2="783.50" stroke="#000" stroke-opacity="0.4" stroke-width="4.1" stroke-dasharray="4.8 8.92"/>
<line x1="730.60" y1="1408.45" x2="730.60" y2="783.50" stroke="#000" stroke-opacity="0.4" stroke-width="4.1" stroke-dasharray="4.8 8.92"/>
<line x1="887.09" y1="1408.45" x2="887.09" y2="783.50" stroke="#000" stroke-opacity="0.4" stroke-width="4.1" stroke-dasharray="4.8 8.92"/>
<line x1="966.55" y1="1408.45" x2="966.55" y2="783.50" stroke="#000" stroke-opacity="0.4" stroke-width="4.1" stroke-dasharray="4.8 8.92"/>
<line x1="1022.93" y1="1408.45" x2="1022.93" y2="783.50" stroke="#000" stroke-opacity="0.4" stroke-width="4.1" stroke-dasharray="4.8 8.92"/>
<line x1="1066.66" y1="1408.45" x2="1066.66" y2="783.50" stroke="#000" stroke-opacity="0.4" stroke-width="4.1" stroke-dasharray="4.8 8.92"/>
<line x1="1102.39" y1="1408.45" x2="1102.39" y2="783.50" stroke="#000" stroke-opacity="0.4" stroke-width="4.1" stroke-dasharray="4.8 8.92"/>
<line x1="1132.60" y1="1408.45" x2="1132.60" y2="783.50" stroke="#000" stroke-opacity="0.4" stroke-width="4.1" stroke-dasharray="4.8 8.92"/>
<line x1="1158.77" y1="1408.45" x2="1158.77" y2="783.50" stroke="#000" stroke-opacity="0.4" stroke-width="4.1" stroke-dasharray="4.8 8.92"/>
<line x1="1181.85" y1="1408.45" x2="1181.85" y2="783.50" stroke="#000" stroke-opacity="0.4" stroke-width="4.1" stroke-dasharray="4.8 8.92"/>
<line x1="1338.34" y1="1408.45" x2="1338.34" y2="783.50" stroke="#000" stroke-opacity="0.4" stroke-width="4.1" stroke-dasharray="4.8 8.92"/>
<line x1="1417.80" y1="1408.45" x2="1417.80" y2="783.50" stroke="#000" stroke-opacity="0.4" stroke-width="4.1" stroke-dasharray="4.8 8.92"/>
<line x1="1474.18" y1="1408.45" x2="1474.18" y2="783.50" stroke="#000" stroke-opacity="0.4" stroke-width="4.1" stroke-dasharray="4.8 8.92"/>
<line x1="1517.91" y1="1408.45" x2="1517.91" y2="783.50" stroke="#000" stroke-opacity="0.4" stroke-width="4.1" stroke-dasharray="4.8 8.92"/>
<line x1="1553.64" y1="1408.45" x2="1553.64" y2="783.50" stroke="#000" stroke-opacity="0.4" stroke-width="4.1" stroke-dasharray="4.8 8.92"/>
<line x1="1583.85" y1="1408.45" x2="1583.85" y2="783.50" stroke="#000" stroke-opacity="0.4" stroke-width="4.1" stroke-dasharray="4.8 8.92"/>
<line x1="1610.02" y1="1408.45" x2="1610.02" y2="783.50" stroke="#000" stroke-opacity="0.4" stroke-width="4.1" stroke-dasharray="4.8 8.92"/>
<line x1="1633.10" y1="1408.45" x2="1633.10" y2="783.50" stroke="#000" stroke-opacity="0.4" stroke-width="4.1" stroke-dasharray="4.8 8.92"/>
<line x1="1789.59" y1="1408.45" x2="1789.59" y2="783.50" stroke="#000" stroke-opacity="0.4" stroke-width="4.1" stroke-dasharray="4.8 8.92"/>
<line x1="1869.05" y1="1408.45" x2="1869.05" y2="783.50" stroke="#000" stroke-opacity="0.4" stroke-width="4.1" stroke-dasharray="4.8 8.92"/>
<line x1="1925.43" y1="1408.45" x2="1925.43" y2="783.50" stroke="#000" stroke-opacity="0.4" stroke-width="4.1" stroke-dasharray="4.8 8.92"/>
<line x1="1969.16" y1="1408.45" x2="1969.16" y2="783.50" stroke="#000" stroke-opacity="0.4" stroke-width="4.1" stroke-dasharray="4.8 8.92"/>
<line x1="2004.89" y1="1408.45" x2="2004.89" y2="783.50" stroke="#000" stroke-opacity="0.4" stroke-width="4.1" stroke-dasharray="4.8 8.92"/>
<line x1="2035.10" y1="1408.45" x2="2035.10" y2="783.50" stroke="#000" stroke-opacity="0.4" stroke-width="4.1" stroke-dasharray="4.8 8.92"/>
<line x1="2061.27" y1="1408.45" x2="2061.27" y2="783.50" stroke="#000" stroke-opacity="0.4" stroke-width="4.1" stroke-dasharray="4.8 8.92"/>
<line x1="2084.35" y1="1408.45" x2="2084.35" y2="783.50" stroke="#000" stroke-opacity="0.4" stroke-width="4.1" stroke-dasharray="4.8 8.92"/>
<line x1="751.25" y1="1407.50" x2="751.25" y2="783.50" stroke="#000" stroke-opacity="0.39" stroke-width="4.8"/>
<line x1="1202.50" y1="1407.50" x2="1202.50" y2="783.50" stroke="#000" stroke-opacity="0.39" stroke-width="4.8"/>
<line x1="1653.75" y1="1407.50" x2="1653.75" y2="783.50" stroke="#000" stroke-opacity="0.39" stroke-width="4.8"/>
<line x1="300.0" y1="790.00" x2="2105.0" y2="790.00" stroke="#000" stroke-opacity="0.5" stroke-width="3.95"/>
<line x1="300.0" y1="943.00" x2="2105.0" y2="943.00" stroke="#000" stroke-opacity="0.5" stroke-width="3.95"/>
<line x1="300.0" y1="1096.00" x2="2105.0" y2="1096.00" stroke="#000" stroke-opacity="0.39" stroke-width="3.95"/>
<line x1="300.0" y1="1248.90" x2="2105.0" y2="1248.90" stroke="#000" stroke-opacity="0.5" stroke-width="3.95"/>
<line x1="300.0" y1="1401.80" x2="2105.0" y2="1401.80" stroke="#000" stroke-opacity="0.39" stroke-width="3.95"/>
<path d="M300.0,784.80V1405.00M2105.0,784.80V1405.00" stroke="#000" stroke-width="10" stroke-linecap="round" fill="none"/>
<path d="M296.0,783.5H2109.0" stroke="#000" stroke-width="5" fill="none"/>
<path d="M300.0,1407.5H2105.0" stroke="#000" stroke-width="5" fill="none"/>
<path d="M435.84,783.5v11.5M435.84,1407.5v-11.5" stroke="#000" stroke-width="4.8"/>
<path d="M515.30,783.5v11.5M515.30,1407.5v-11.5" stroke="#000" stroke-width="4.8"/>
<path d="M571.68,783.5v11.5M571.68,1407.5v-11.5" stroke="#000" stroke-width="4.8"/>
<path d="M615.41,783.5v11.5M615.41,1407.5v-11.5" stroke="#000" stroke-width="4.8"/>
<path d="M651.14,783.5v11.5M651.14,1407.5v-11.5" stroke="#000" stroke-width="4.8"/>
<path d="M681.35,783.5v11.5M681.35,1407.5v-11.5" stroke="#000" stroke-width="4.8"/>
<path d="M707.52,783.5v11.5M707.52,1407.5v-11.5" stroke="#000" stroke-width="4.8"/>
<path d="M730.60,783.5v11.5M730.60,1407.5v-11.5" stroke="#000" stroke-width="4.8"/>
<path d="M887.09,783.5v11.5M887.09,1407.5v-11.5" stroke="#000" stroke-width="4.8"/>
<path d="M966.55,783.5v11.5M966.55,1407.5v-11.5" stroke="#000" stroke-width="4.8"/>
<path d="M1022.93,783.5v11.5M1022.93,1407.5v-11.5" stroke="#000" stroke-width="4.8"/>
<path d="M1066.66,783.5v11.5M1066.66,1407.5v-11.5" stroke="#000" stroke-width="4.8"/>
<path d="M1102.39,783.5v11.5M1102.39,1407.5v-11.5" stroke="#000" stroke-width="4.8"/>
<path d="M1132.60,783.5v11.5M1132.60,1407.5v-11.5" stroke="#000" stroke-width="4.8"/>
<path d="M1158.77,783.5v11.5M1158.77,1407.5v-11.5" stroke="#000" stroke-width="4.8"/>
<path d="M1181.85,783.5v11.5M1181.85,1407.5v-11.5" stroke="#000" stroke-width="4.8"/>
<path d="M1338.34,783.5v11.5M1338.34,1407.5v-11.5" stroke="#000" stroke-width="4.8"/>
<path d="M1417.80,783.5v11.5M1417.80,1407.5v-11.5" stroke="#000" stroke-width="4.8"/>
<path d="M1474.18,783.5v11.5M1474.18,1407.5v-11.5" stroke="#000" stroke-width="4.8"/>
<path d="M1517.91,783.5v11.5M1517.91,1407.5v-11.5" stroke="#000" stroke-width="4.8"/>
<path d="M1553.64,783.5v11.5M1553.64,1407.5v-11.5" stroke="#000" stroke-width="4.8"/>
<path d="M1583.85,783.5v11.5M1583.85,1407.5v-11.5" stroke="#000" stroke-width="4.8"/>
<path d="M1610.02,783.5v11.5M1610.02,1407.5v-11.5" stroke="#000" stroke-width="4.8"/>
<path d="M1633.10,783.5v11.5M1633.10,1407.5v-11.5" stroke="#000" stroke-width="4.8"/>
<path d="M1789.59,783.5v11.5M1789.59,1407.5v-11.5" stroke="#000" stroke-width="4.8"/>
<path d="M1869.05,783.5v11.5M1869.05,1407.5v-11.5" stroke="#000" stroke-width="4.8"/>
<path d="M1925.43,783.5v11.5M1925.43,1407.5v-11.5" stroke="#000" stroke-width="4.8"/>
<path d="M1969.16,783.5v11.5M1969.16,1407.5v-11.5" stroke="#000" stroke-width="4.8"/>
<path d="M2004.89,783.5v11.5M2004.89,1407.5v-11.5" stroke="#000" stroke-width="4.8"/>
<path d="M2035.10,783.5v11.5M2035.10,1407.5v-11.5" stroke="#000" stroke-width="4.8"/>
<path d="M2061.27,783.5v11.5M2061.27,1407.5v-11.5" stroke="#000" stroke-width="4.8"/>
<path d="M2084.35,783.5v11.5M2084.35,1407.5v-11.5" stroke="#000" stroke-width="4.8"/>
<path d="M751.25,783.5v20.5M751.25,1407.5v-20.5" stroke="#000" stroke-width="4.8"/>
<path d="M1202.50,783.5v20.5M1202.50,1407.5v-20.5" stroke="#000" stroke-width="4.8"/>
<path d="M1653.75,783.5v20.5M1653.75,1407.5v-20.5" stroke="#000" stroke-width="4.8"/>
<path d="M300.0,790.50h21.0M2105.0,790.50h-21.0" stroke="#000" stroke-width="4.8"/>
<path d="M300.0,943.50h21.0M2105.0,943.50h-21.0" stroke="#000" stroke-width="4.8"/>
<path d="M300.0,1096.50h21.0M2105.0,1096.50h-21.0" stroke="#000" stroke-width="4.8"/>
<path d="M300.0,1249.40h21.0M2105.0,1249.40h-21.0" stroke="#000" stroke-width="4.8"/>
<path d="M300.0,1402.30h21.0M2105.0,1402.30h-21.0" stroke="#000" stroke-width="4.8"/>
<path d="M300.0,1016.2C302.0,1016.2 308.0,1016.0 312.0,1015.9C316.0,1015.8 320.0,1015.8 324.0,1015.7C328.0,1015.6 332.0,1015.5 336.0,1015.4C340.0,1015.3 344.0,1015.2 348.0,1015.1C352.0,1015.0 356.0,1014.9 360.0,1014.8C364.0,1014.7 368.0,1014.7 372.0,1014.6C376.0,1014.5 380.0,1014.5 384.0,1014.4C388.0,1014.3 392.0,1014.2 396.0,1014.1C400.0,1014.0 404.0,1014.0 408.0,1013.9C412.0,1013.8 416.0,1013.8 420.0,1013.7C424.0,1013.7 428.0,1013.7 432.0,1013.6C436.0,1013.5 440.0,1013.5 444.0,1013.4C448.0,1013.3 452.0,1013.3 456.0,1013.3C460.0,1013.3 464.0,1013.3 468.0,1013.3C472.0,1013.3 476.0,1013.2 480.0,1013.2C484.0,1013.2 488.0,1013.3 492.0,1013.3C496.0,1013.3 500.0,1013.3 504.0,1013.3C508.0,1013.3 512.0,1013.4 516.0,1013.4C520.0,1013.4 524.0,1013.5 528.0,1013.5C532.0,1013.5 536.0,1013.6 540.0,1013.7C544.0,1013.8 548.0,1013.9 552.0,1014.0C556.0,1014.1 560.0,1014.2 564.0,1014.3C568.0,1014.4 572.0,1014.6 576.0,1014.7C580.0,1014.8 584.0,1015.0 588.0,1015.1C592.0,1015.2 596.0,1015.4 600.0,1015.6C604.0,1015.8 608.0,1016.0 612.0,1016.2C616.0,1016.4 620.0,1016.6 624.0,1016.8C628.0,1017.0 632.0,1017.2 636.0,1017.5C640.0,1017.8 644.0,1018.0 648.0,1018.3C652.0,1018.6 656.0,1018.9 660.0,1019.2C664.0,1019.5 668.0,1019.9 672.0,1020.2C676.0,1020.5 680.0,1020.9 684.0,1021.2C688.0,1021.6 692.0,1021.9 696.0,1022.3C700.0,1022.7 704.0,1023.2 708.0,1023.6C712.0,1024.0 716.0,1024.5 720.0,1024.9C724.0,1025.4 728.0,1025.8 732.0,1026.3C736.0,1026.8 740.0,1027.2 744.0,1027.7C748.0,1028.2 752.0,1028.6 756.0,1029.1C760.0,1029.6 764.0,1030.0 768.0,1030.5C772.0,1031.0 776.0,1031.4 780.0,1031.8C784.0,1032.2 788.0,1032.6 792.0,1033.0C796.0,1033.4 800.0,1033.8 804.0,1034.1C808.0,1034.4 812.0,1034.7 816.0,1035.0C820.0,1035.3 824.0,1035.6 828.0,1035.8C832.0,1036.0 836.0,1036.2 840.0,1036.3C844.0,1036.4 848.0,1036.5 852.0,1036.5C856.0,1036.5 860.0,1036.5 864.0,1036.5C868.0,1036.5 872.0,1036.3 876.0,1036.2C880.0,1036.1 884.0,1035.9 888.0,1035.7C892.0,1035.5 896.0,1035.3 900.0,1035.1C904.0,1034.9 908.0,1034.5 912.0,1034.3C916.0,1034.0 920.0,1033.8 924.0,1033.6C928.0,1033.3 932.0,1033.0 936.0,1032.8C940.0,1032.6 944.0,1032.4 948.0,1032.2C952.0,1032.0 956.0,1031.8 960.0,1031.5C964.0,1031.2 968.0,1031.0 972.0,1030.7C976.0,1030.4 980.0,1030.1 984.0,1029.7C988.0,1029.3 992.0,1029.0 996.0,1028.6C1000.0,1028.2 1004.0,1027.7 1008.0,1027.2C1012.0,1026.7 1016.0,1026.1 1020.0,1025.6C1024.0,1025.0 1028.0,1024.5 1032.0,1023.9C1036.0,1023.3 1040.0,1022.7 1044.0,1022.1C1048.0,1021.5 1052.0,1020.9 1056.0,1020.4C1060.0,1019.9 1064.0,1019.4 1068.0,1018.9C1072.0,1018.4 1076.0,1018.0 1080.0,1017.6C1084.0,1017.2 1088.0,1016.9 1092.0,1016.7C1096.0,1016.5 1100.0,1016.3 1104.0,1016.2C1108.0,1016.1 1112.0,1016.1 1116.0,1016.2C1120.0,1016.3 1124.0,1016.5 1128.0,1016.9C1132.0,1017.2 1136.0,1017.7 1140.0,1018.3C1144.0,1018.9 1149.6,1020.1 1152.0,1020.6C1154.4,1021.1 1153.7,1020.9 1154.5,1021.1C1155.3,1021.3 1156.2,1021.6 1157.0,1021.8C1157.8,1022.0 1158.7,1022.2 1159.5,1022.4C1160.3,1022.6 1161.2,1022.9 1162.0,1023.1C1162.8,1023.3 1163.7,1023.5 1164.5,1023.8C1165.3,1024.0 1166.2,1024.3 1167.0,1024.6C1167.8,1024.9 1168.7,1025.1 1169.5,1025.4C1170.3,1025.7 1171.2,1026.0 1172.0,1026.3C1172.8,1026.6 1173.7,1026.9 1174.5,1027.2C1175.3,1027.5 1176.2,1027.8 1177.0,1028.1C1177.8,1028.4 1178.7,1028.8 1179.5,1029.1C1180.3,1029.4 1181.2,1029.8 1182.0,1030.2C1182.8,1030.6 1183.7,1030.9 1184.5,1031.3C1185.3,1031.7 1186.2,1032.0 1187.0,1032.4C1187.8,1032.8 1188.7,1033.3 1189.5,1033.7C1190.3,1034.1 1191.2,1034.5 1192.0,1035.0C1192.8,1035.5 1193.7,1036.0 1194.5,1036.5C1195.3,1037.0 1196.2,1037.5 1197.0,1038.1C1197.8,1038.7 1198.7,1039.3 1199.5,1039.9C1200.3,1040.5 1201.2,1041.2 1202.0,1041.9C1202.8,1042.6 1203.7,1043.3 1204.5,1044.1C1205.3,1044.9 1206.2,1045.7 1207.0,1046.6C1207.8,1047.5 1208.7,1048.4 1209.5,1049.4C1210.3,1050.4 1211.2,1051.4 1212.0,1052.5C1212.8,1053.6 1213.7,1054.8 1214.5,1056.0C1215.3,1057.2 1216.2,1058.5 1217.0,1059.9C1217.8,1061.3 1218.7,1062.8 1219.5,1064.3C1220.3,1065.8 1221.2,1067.5 1222.0,1069.2C1222.8,1070.9 1223.7,1072.7 1224.5,1074.7C1225.3,1076.7 1226.2,1078.8 1227.0,1081.0C1227.8,1083.2 1228.7,1085.6 1229.5,1088.2C1230.3,1090.8 1231.2,1093.6 1232.0,1096.6C1232.8,1099.6 1233.7,1103.1 1234.5,1106.4C1235.3,1109.7 1236.2,1113.2 1237.0,1116.6C1237.8,1119.9 1238.7,1123.3 1239.5,1126.5C1240.3,1129.7 1241.2,1132.6 1242.0,1135.5C1242.8,1138.4 1243.7,1141.2 1244.5,1143.8C1245.3,1146.4 1246.2,1148.9 1247.0,1151.3C1247.8,1153.7 1248.7,1156.1 1249.5,1158.3C1250.3,1160.5 1251.2,1162.7 1252.0,1164.7C1252.8,1166.8 1253.7,1168.7 1254.5,1170.6C1255.3,1172.5 1256.2,1174.3 1257.0,1176.1C1257.8,1177.9 1258.7,1179.6 1259.5,1181.3C1260.3,1183.0 1261.2,1184.5 1262.0,1186.1C1262.8,1187.7 1263.7,1189.2 1264.5,1190.7C1265.3,1192.2 1266.2,1193.7 1267.0,1195.1C1267.8,1196.5 1268.7,1197.9 1269.5,1199.3C1270.3,1200.7 1271.2,1202.1 1272.0,1203.4C1272.8,1204.8 1273.7,1206.1 1274.5,1207.4C1275.3,1208.7 1276.2,1210.1 1277.0,1211.4C1277.8,1212.7 1278.7,1214.1 1279.5,1215.4C1280.3,1216.7 1281.2,1218.0 1282.0,1219.3C1282.8,1220.6 1283.7,1221.9 1284.5,1223.2C1285.3,1224.5 1286.2,1225.7 1287.0,1227.0C1287.8,1228.3 1288.7,1229.5 1289.5,1230.8C1290.3,1232.1 1291.2,1233.4 1292.0,1234.6C1292.8,1235.8 1293.7,1237.0 1294.5,1238.2C1295.3,1239.4 1296.2,1240.6 1297.0,1241.8C1297.8,1243.0 1298.7,1244.2 1299.5,1245.3C1300.3,1246.4 1301.2,1247.5 1302.0,1248.6C1302.8,1249.7 1303.7,1250.8 1304.5,1251.9C1305.3,1253.0 1306.2,1254.1 1307.0,1255.1C1307.8,1256.1 1308.7,1257.1 1309.5,1258.1C1310.3,1259.1 1311.2,1260.1 1312.0,1261.0C1312.8,1261.9 1313.7,1262.8 1314.5,1263.7C1315.3,1264.6 1316.2,1265.5 1317.0,1266.3C1317.8,1267.1 1318.7,1268.0 1319.5,1268.8C1320.3,1269.6 1321.2,1270.3 1322.0,1271.1C1322.8,1271.9 1323.7,1272.7 1324.5,1273.4C1325.3,1274.1 1326.2,1274.8 1327.0,1275.5C1327.8,1276.2 1328.7,1276.8 1329.5,1277.5C1330.3,1278.2 1331.2,1278.8 1332.0,1279.4C1332.8,1280.0 1333.7,1280.5 1334.5,1281.1C1335.3,1281.7 1336.2,1282.2 1337.0,1282.8C1337.8,1283.3 1338.7,1283.9 1339.5,1284.4C1340.3,1284.9 1341.2,1285.5 1342.0,1286.0C1342.8,1286.5 1343.7,1286.9 1344.5,1287.4C1345.3,1287.9 1346.2,1288.3 1347.0,1288.8C1347.8,1289.3 1348.7,1289.8 1349.5,1290.2C1350.3,1290.6 1351.2,1291.0 1352.0,1291.4C1352.8,1291.8 1353.7,1292.2 1354.5,1292.6C1355.3,1293.0 1356.2,1293.4 1357.0,1293.8C1357.8,1294.2 1358.7,1294.6 1359.5,1295.0C1360.3,1295.4 1361.2,1295.7 1362.0,1296.1C1362.8,1296.5 1363.7,1296.8 1364.5,1297.2C1365.3,1297.6 1366.2,1297.9 1367.0,1298.2C1367.8,1298.5 1368.7,1299.0 1369.5,1299.3C1370.3,1299.6 1371.2,1299.9 1372.0,1300.3C1372.8,1300.7 1373.7,1301.1 1374.5,1301.4C1375.3,1301.8 1376.2,1302.1 1377.0,1302.4C1377.8,1302.8 1378.7,1303.1 1379.5,1303.5C1380.3,1303.9 1381.2,1304.2 1382.0,1304.6C1382.8,1305.0 1383.7,1305.3 1384.5,1305.7C1385.3,1306.1 1386.2,1306.4 1387.0,1306.7C1387.8,1307.0 1388.7,1307.4 1389.5,1307.8C1390.3,1308.2 1391.2,1308.5 1392.0,1308.9C1392.8,1309.3 1393.7,1309.6 1394.5,1310.0C1395.3,1310.4 1396.2,1310.7 1397.0,1311.1C1397.8,1311.5 1398.7,1311.8 1399.5,1312.2C1400.3,1312.6 1401.2,1312.9 1402.0,1313.3C1402.8,1313.7 1403.7,1314.1 1404.5,1314.4C1405.3,1314.8 1406.2,1315.1 1407.0,1315.4C1407.8,1315.8 1408.7,1316.2 1409.5,1316.5C1410.3,1316.8 1411.2,1317.2 1412.0,1317.5C1412.8,1317.8 1413.7,1318.2 1414.5,1318.6C1415.3,1318.9 1416.2,1319.3 1417.0,1319.6C1417.8,1319.9 1418.7,1320.3 1419.5,1320.6C1420.3,1320.9 1419.6,1320.6 1422.0,1321.5C1424.4,1322.4 1430.0,1324.6 1434.0,1326.0C1438.0,1327.4 1442.0,1328.7 1446.0,1330.0C1450.0,1331.3 1454.0,1332.5 1458.0,1333.7C1462.0,1334.9 1466.0,1335.9 1470.0,1337.0C1474.0,1338.1 1478.0,1339.2 1482.0,1340.2C1486.0,1341.2 1490.0,1342.2 1494.0,1343.1C1498.0,1344.0 1502.0,1344.9 1506.0,1345.8C1510.0,1346.7 1514.0,1347.6 1518.0,1348.4C1522.0,1349.2 1526.0,1350.0 1530.0,1350.8C1534.0,1351.6 1538.0,1352.4 1542.0,1353.2C1546.0,1354.0 1550.0,1354.8 1554.0,1355.5C1558.0,1356.2 1562.0,1357.0 1566.0,1357.7C1570.0,1358.4 1574.0,1359.2 1578.0,1359.9C1582.0,1360.6 1586.0,1361.2 1590.0,1361.9C1594.0,1362.6 1598.0,1363.2 1602.0,1363.8C1606.0,1364.4 1610.0,1365.1 1614.0,1365.7C1618.0,1366.3 1622.0,1366.9 1626.0,1367.5C1630.0,1368.1 1634.0,1368.6 1638.0,1369.2C1642.0,1369.8 1646.0,1370.4 1650.0,1370.9C1654.0,1371.5 1658.0,1372.0 1662.0,1372.5C1666.0,1373.0 1670.0,1373.5 1674.0,1374.0C1678.0,1374.5 1682.0,1374.9 1686.0,1375.4C1690.0,1375.9 1694.0,1376.3 1698.0,1376.8C1702.0,1377.2 1706.0,1377.7 1710.0,1378.1C1714.0,1378.5 1718.0,1379.0 1722.0,1379.4C1726.0,1379.8 1730.0,1380.2 1734.0,1380.6C1738.0,1381.0 1742.0,1381.3 1746.0,1381.7C1750.0,1382.1 1754.0,1382.5 1758.0,1382.8C1762.0,1383.1 1766.0,1383.5 1770.0,1383.8C1774.0,1384.1 1778.0,1384.5 1782.0,1384.8C1786.0,1385.1 1790.0,1385.4 1794.0,1385.7C1798.0,1386.0 1802.0,1386.3 1806.0,1386.6C1810.0,1386.9 1814.0,1387.2 1818.0,1387.5C1822.0,1387.8 1826.0,1388.0 1830.0,1388.3C1834.0,1388.6 1838.0,1388.8 1842.0,1389.1C1846.0,1389.3 1850.0,1389.6 1854.0,1389.8C1858.0,1390.0 1862.0,1390.3 1866.0,1390.5C1870.0,1390.7 1874.0,1391.0 1878.0,1391.2C1882.0,1391.4 1886.0,1391.6 1890.0,1391.8C1894.0,1392.0 1898.0,1392.2 1902.0,1392.4C1906.0,1392.6 1910.0,1392.8 1914.0,1393.0C1918.0,1393.2 1922.0,1393.3 1926.0,1393.5C1930.0,1393.7 1934.0,1393.8 1938.0,1394.0C1942.0,1394.2 1946.0,1394.3 1950.0,1394.5C1954.0,1394.7 1958.0,1394.8 1962.0,1395.0C1966.0,1395.2 1970.0,1395.3 1974.0,1395.4C1978.0,1395.5 1982.0,1395.7 1986.0,1395.8C1990.0,1395.9 1994.0,1396.1 1998.0,1396.2C2002.0,1396.3 2006.0,1396.4 2010.0,1396.5C2014.0,1396.6 2018.0,1396.8 2022.0,1396.9C2026.0,1397.0 2030.0,1397.1 2034.0,1397.2C2038.0,1397.3 2042.0,1397.4 2046.0,1397.5C2050.0,1397.6 2054.0,1397.7 2058.0,1397.8C2062.0,1397.9 2066.0,1397.9 2070.0,1398.0C2074.0,1398.1 2078.0,1398.2 2082.0,1398.3C2086.0,1398.4 2090.2,1398.4 2094.0,1398.5C2097.8,1398.6 2103.2,1398.7 2105.0,1398.7" fill="none" stroke="#0000ff" stroke-width="10.4" stroke-linecap="round" stroke-linejoin="round"/>
<path d="M300.0,834.7C302.0,834.7 308.0,834.8 312.0,834.8C316.0,834.8 320.0,834.9 324.0,834.9C328.0,834.9 332.0,834.9 336.0,834.9C340.0,834.9 344.0,834.8 348.0,834.8C352.0,834.8 356.0,834.8 360.0,834.7C364.0,834.7 368.0,834.6 372.0,834.5C376.0,834.4 380.0,834.3 384.0,834.2C388.0,834.1 392.0,833.9 396.0,833.8C400.0,833.7 404.0,833.5 408.0,833.4C412.0,833.3 416.0,833.1 420.0,833.0C424.0,832.9 428.0,832.7 432.0,832.5C436.0,832.3 440.0,832.1 444.0,831.9C448.0,831.7 452.0,831.6 456.0,831.4C460.0,831.2 464.0,831.0 468.0,830.8C472.0,830.6 476.0,830.4 480.0,830.2C484.0,830.0 488.0,829.7 492.0,829.5C496.0,829.3 500.0,829.1 504.0,828.9C508.0,828.7 512.0,828.4 516.0,828.2C520.0,828.0 524.0,827.8 528.0,827.6C532.0,827.4 536.0,827.1 540.0,826.9C544.0,826.7 548.0,826.5 552.0,826.3C556.0,826.1 560.0,825.9 564.0,825.7C568.0,825.5 572.0,825.3 576.0,825.1C580.0,824.9 584.0,824.7 588.0,824.5C592.0,824.3 596.0,824.2 600.0,824.0C604.0,823.8 608.0,823.7 612.0,823.5C616.0,823.3 620.0,823.1 624.0,823.0C628.0,822.9 632.0,822.7 636.0,822.6C640.0,822.5 644.0,822.4 648.0,822.3C652.0,822.2 656.0,822.1 660.0,822.0C664.0,821.9 668.0,821.9 672.0,821.8C676.0,821.7 680.0,821.6 684.0,821.6C688.0,821.6 692.0,821.5 696.0,821.5C700.0,821.5 704.0,821.5 708.0,821.5C712.0,821.5 716.0,821.6 720.0,821.6C724.0,821.6 728.0,821.7 732.0,821.8C736.0,821.9 740.0,822.0 744.0,822.1C748.0,822.2 752.0,822.4 756.0,822.5C760.0,822.6 764.0,822.7 768.0,822.9C772.0,823.1 776.0,823.3 780.0,823.5C784.0,823.7 788.0,824.0 792.0,824.3C796.0,824.6 800.0,824.8 804.0,825.1C808.0,825.4 812.0,825.8 816.0,826.1C820.0,826.5 824.0,826.8 828.0,827.2C832.0,827.6 836.0,828.0 840.0,828.4C844.0,828.8 848.0,829.3 852.0,829.8C856.0,830.3 860.0,830.8 864.0,831.4C868.0,832.0 872.0,832.5 876.0,833.1C880.0,833.7 884.0,834.2 888.0,834.9C892.0,835.5 896.0,836.3 900.0,837.0C904.0,837.7 908.0,838.4 912.0,839.2C916.0,840.0 920.0,840.8 924.0,841.6C928.0,842.4 932.0,843.2 936.0,844.1C940.0,845.0 944.0,846.0 948.0,846.9C952.0,847.8 956.0,848.8 960.0,849.8C964.0,850.8 968.0,851.8 972.0,852.9C976.0,854.0 980.0,855.1 984.0,856.3C988.0,857.4 992.0,858.6 996.0,859.8C1000.0,861.0 1004.0,862.3 1008.0,863.6C1012.0,864.9 1016.0,866.2 1020.0,867.6C1024.0,869.0 1028.0,870.4 1032.0,871.8C1036.0,873.2 1040.0,874.7 1044.0,876.2C1048.0,877.7 1052.0,879.3 1056.0,880.9C1060.0,882.5 1064.0,884.1 1068.0,885.8C1072.0,887.5 1076.0,889.2 1080.0,891.0C1084.0,892.8 1088.0,894.5 1092.0,896.4C1096.0,898.2 1100.0,900.2 1104.0,902.1C1108.0,904.0 1112.0,906.0 1116.0,908.0C1120.0,910.0 1124.0,912.1 1128.0,914.2C1132.0,916.3 1136.0,918.5 1140.0,920.7C1144.0,922.9 1149.6,926.1 1152.0,927.5C1154.4,928.9 1153.7,928.4 1154.5,928.9C1155.3,929.4 1156.2,929.9 1157.0,930.4C1157.8,930.9 1158.7,931.3 1159.5,931.8C1160.3,932.3 1161.2,932.8 1162.0,933.3C1162.8,933.8 1163.7,934.3 1164.5,934.8C1165.3,935.3 1166.2,935.8 1167.0,936.3C1167.8,936.8 1168.7,937.3 1169.5,937.8C1170.3,938.3 1171.2,938.8 1172.0,939.3C1172.8,939.8 1173.7,940.4 1174.5,940.9C1175.3,941.4 1176.2,941.9 1177.0,942.5C1177.8,943.1 1178.7,943.8 1179.5,944.4C1180.3,945.0 1181.2,945.7 1182.0,946.4C1182.8,947.1 1183.7,948.0 1184.5,948.8C1185.3,949.6 1186.2,950.4 1187.0,951.4C1187.8,952.4 1188.7,953.4 1189.5,954.5C1190.3,955.6 1191.2,956.8 1192.0,958.1C1192.8,959.4 1193.7,960.7 1194.5,962.1C1195.3,963.5 1196.2,965.1 1197.0,966.8C1197.8,968.5 1198.7,970.2 1199.5,972.1C1200.3,974.0 1201.2,976.0 1202.0,978.1C1202.8,980.2 1203.7,982.5 1204.5,985.0C1205.3,987.5 1206.2,990.1 1207.0,992.8C1207.8,995.5 1208.7,998.2 1209.5,1001.1C1210.3,1004.0 1211.2,1007.0 1212.0,1009.9C1212.8,1012.8 1213.7,1015.8 1214.5,1018.7C1215.3,1021.6 1216.2,1024.6 1217.0,1027.4C1217.8,1030.2 1218.7,1033.0 1219.5,1035.5C1220.3,1038.0 1221.2,1040.5 1222.0,1042.7C1222.8,1045.0 1223.7,1047.0 1224.5,1049.0C1225.3,1051.0 1226.2,1052.7 1227.0,1054.4C1227.8,1056.1 1228.7,1057.6 1229.5,1059.1C1230.3,1060.6 1231.2,1062.1 1232.0,1063.4C1232.8,1064.8 1233.7,1066.0 1234.5,1067.2C1235.3,1068.5 1236.2,1069.7 1237.0,1070.9C1237.8,1072.1 1238.7,1073.1 1239.5,1074.2C1240.3,1075.3 1241.2,1076.3 1242.0,1077.3C1242.8,1078.3 1243.7,1079.3 1244.5,1080.2C1245.3,1081.1 1246.2,1082.0 1247.0,1082.9C1247.8,1083.8 1248.7,1084.6 1249.5,1085.4C1250.3,1086.2 1251.2,1087.0 1252.0,1087.7C1252.8,1088.4 1253.7,1089.1 1254.5,1089.8C1255.3,1090.5 1256.2,1091.1 1257.0,1091.7C1257.8,1092.3 1258.7,1092.9 1259.5,1093.5C1260.3,1094.1 1261.2,1094.6 1262.0,1095.1C1262.8,1095.6 1263.7,1096.2 1264.5,1096.7C1265.3,1097.2 1266.2,1097.6 1267.0,1098.1C1267.8,1098.5 1268.7,1099.0 1269.5,1099.4C1270.3,1099.8 1271.2,1100.3 1272.0,1100.7C1272.8,1101.1 1273.7,1101.4 1274.5,1101.8C1275.3,1102.2 1276.2,1102.5 1277.0,1102.9C1277.8,1103.3 1278.7,1103.7 1279.5,1104.0C1280.3,1104.3 1281.2,1104.7 1282.0,1105.0C1282.8,1105.3 1283.7,1105.8 1284.5,1106.1C1285.3,1106.4 1286.2,1106.8 1287.0,1107.1C1287.8,1107.4 1288.7,1107.8 1289.5,1108.1C1290.3,1108.4 1291.2,1108.8 1292.0,1109.1C1292.8,1109.4 1293.7,1109.8 1294.5,1110.1C1295.3,1110.4 1296.2,1110.8 1297.0,1111.2C1297.8,1111.6 1298.7,1111.9 1299.5,1112.2C1300.3,1112.5 1299.6,1112.2 1302.0,1113.2C1304.4,1114.2 1310.0,1116.6 1314.0,1118.3C1318.0,1120.0 1322.0,1121.7 1326.0,1123.4C1330.0,1125.1 1334.0,1126.8 1338.0,1128.5C1342.0,1130.2 1346.0,1132.0 1350.0,1133.7C1354.0,1135.5 1358.0,1137.2 1362.0,1139.0C1366.0,1140.8 1370.0,1142.6 1374.0,1144.4C1378.0,1146.2 1382.0,1148.0 1386.0,1149.8C1390.0,1151.6 1394.0,1153.4 1398.0,1155.2C1402.0,1157.0 1406.0,1158.9 1410.0,1160.7C1414.0,1162.5 1418.0,1164.4 1422.0,1166.2C1426.0,1168.0 1430.0,1170.0 1434.0,1171.8C1438.0,1173.6 1442.0,1175.4 1446.0,1177.3C1450.0,1179.2 1454.0,1181.1 1458.0,1182.9C1462.0,1184.8 1466.0,1186.6 1470.0,1188.4C1474.0,1190.2 1478.0,1192.0 1482.0,1193.8C1486.0,1195.6 1490.0,1197.4 1494.0,1199.2C1498.0,1201.0 1502.0,1202.7 1506.0,1204.4C1510.0,1206.1 1514.0,1207.9 1518.0,1209.6C1522.0,1211.3 1526.0,1213.0 1530.0,1214.6C1534.0,1216.2 1538.0,1217.8 1542.0,1219.4C1546.0,1221.0 1550.0,1222.6 1554.0,1224.1C1558.0,1225.6 1562.0,1227.1 1566.0,1228.5C1570.0,1229.9 1574.0,1231.3 1578.0,1232.7C1582.0,1234.1 1586.0,1235.4 1590.0,1236.7C1594.0,1238.0 1598.0,1239.2 1602.0,1240.4C1606.0,1241.6 1610.0,1242.8 1614.0,1243.9C1618.0,1245.0 1622.0,1246.1 1626.0,1247.1C1630.0,1248.1 1634.0,1249.1 1638.0,1250.1C1642.0,1251.1 1646.0,1252.1 1650.0,1253.0C1654.0,1253.9 1658.0,1254.8 1662.0,1255.6C1666.0,1256.4 1670.0,1257.2 1674.0,1258.0C1678.0,1258.8 1682.0,1259.6 1686.0,1260.3C1690.0,1261.0 1694.0,1261.7 1698.0,1262.4C1702.0,1263.1 1706.0,1263.7 1710.0,1264.3C1714.0,1264.9 1718.0,1265.6 1722.0,1266.2C1726.0,1266.8 1730.0,1267.3 1734.0,1267.8C1738.0,1268.3 1742.0,1268.9 1746.0,1269.4C1750.0,1269.9 1754.0,1270.4 1758.0,1270.9C1762.0,1271.4 1766.0,1271.8 1770.0,1272.3C1774.0,1272.8 1778.0,1273.2 1782.0,1273.6C1786.0,1274.0 1790.0,1274.4 1794.0,1274.8C1798.0,1275.2 1802.0,1275.6 1806.0,1276.0C1810.0,1276.4 1814.0,1276.7 1818.0,1277.1C1822.0,1277.5 1826.0,1277.8 1830.0,1278.2C1834.0,1278.6 1838.0,1279.0 1842.0,1279.3C1846.0,1279.6 1850.0,1279.9 1854.0,1280.3C1858.0,1280.7 1862.0,1281.0 1866.0,1281.4C1870.0,1281.8 1874.0,1282.2 1878.0,1282.5C1882.0,1282.8 1886.0,1283.2 1890.0,1283.5C1894.0,1283.8 1898.0,1284.2 1902.0,1284.6C1906.0,1285.0 1910.0,1285.4 1914.0,1285.8C1918.0,1286.2 1922.0,1286.5 1926.0,1286.9C1930.0,1287.3 1934.0,1287.6 1938.0,1288.0C1942.0,1288.4 1946.0,1288.8 1950.0,1289.2C1954.0,1289.6 1958.0,1289.9 1962.0,1290.3C1966.0,1290.7 1970.0,1291.1 1974.0,1291.5C1978.0,1291.9 1982.0,1292.2 1986.0,1292.6C1990.0,1293.0 1994.0,1293.4 1998.0,1293.8C2002.0,1294.2 2006.0,1294.6 2010.0,1295.0C2014.0,1295.4 2018.0,1295.8 2022.0,1296.2C2026.0,1296.6 2030.0,1296.9 2034.0,1297.3C2038.0,1297.7 2042.0,1298.1 2046.0,1298.5C2050.0,1298.9 2054.0,1299.3 2058.0,1299.7C2062.0,1300.1 2066.0,1300.5 2070.0,1300.9C2074.0,1301.3 2078.0,1301.6 2082.0,1302.0C2086.0,1302.4 2090.2,1302.8 2094.0,1303.2C2097.8,1303.6 2103.2,1304.1 2105.0,1304.3" fill="none" stroke="#ff0000" stroke-width="10.4" stroke-linecap="round" stroke-linejoin="round"/>
<rect x="349.65" y="1187.55" width="541.20" height="154.80" fill="#fff" stroke="#262626" stroke-width="4.7"/>
<path d="M375.70,1230.70H456.80" stroke="#0000ff" stroke-width="10.4" stroke-linecap="round"/>
<path d="M375.70,1303.90H456.80" stroke="#ff0000" stroke-width="10.4" stroke-linecap="round"/>
<text transform="translate(502.60,1251.20) scale(1.0345,1)" font-size="69.62">Without</text><text transform="translate(753.91,1251.20) scale(0.8561,1)" font-size="69.62">B2B</text>
<text transform="translate(501.40,1327.00) scale(1.0318,1)" font-size="69.92">With</text><text transform="translate(657.20,1327.00) scale(0.8573,1)" font-size="69.92">B2B</text>
</g>
<g id="labels">
<text transform="translate(242.02,110.40) scale(1.0086,1)" font-size="73.48">0</text>
<text transform="translate(169.61,268.30) scale(0.9564,1)" font-size="73.03"><tspan dy="3">−</tspan><tspan dy="-3">50</tspan></text>
<text transform="translate(131.32,438.00) scale(0.9592,1)" font-size="74.55"><tspan dy="3">−</tspan><tspan dy="-3">100</tspan></text>
<text transform="translate(131.32,596.00) scale(0.9592,1)" font-size="74.55"><tspan dy="3">−</tspan><tspan dy="-3">150</tspan></text>
<text transform="translate(131.32,751.80) scale(0.9852,1)" font-size="72.58"><tspan dy="3">−</tspan><tspan dy="-3">200</tspan></text>
<text transform="translate(157.78,823.80) scale(0.9747,1)" font-size="74.09">180</text>
<text transform="translate(219.26,966.20) scale(0.9979,1)" font-size="73.33">0</text>
<text transform="translate(129.32,1123.00) scale(0.9592,1)" font-size="74.55"><tspan dy="3">−</tspan><tspan dy="-3">180</tspan></text>
<text transform="translate(129.32,1266.20) scale(0.9751,1)" font-size="73.33"><tspan dy="3">−</tspan><tspan dy="-3">360</tspan></text>
<text transform="translate(129.32,1423.00) scale(0.9592,1)" font-size="74.55"><tspan dy="3">−</tspan><tspan dy="-3">540</tspan></text>
<text transform="translate(258.22,1500.90) scale(1.0416,1)" font-size="74.39">10</text><text transform="translate(352.43,1453.20) scale(0.8865,1)" font-size="57.88"><tspan dy="3">−</tspan><tspan dy="-3">1</tspan></text>
<text transform="translate(719.72,1500.90) scale(1.0569,1)" font-size="74.39">10</text><text transform="translate(819.55,1453.20) scale(0.9919,1)" font-size="57.88">0</text>
<text transform="translate(1168.32,1500.90) scale(1.0569,1)" font-size="74.39">10</text><text transform="translate(1265.39,1453.20) scale(1.0293,1)" font-size="57.88">1</text>
<text transform="translate(1631.44,1500.90) scale(1.0385,1)" font-size="74.39">10</text><text transform="translate(1727.63,1453.20) scale(1.1403,1)" font-size="57.88">2</text>
<text transform="translate(2071.70,1500.90) scale(1.0446,1)" font-size="74.39">10</text><text transform="translate(2170.18,1453.20) scale(1.0262,1)" font-size="57.88">3</text>
<text transform="translate(895.32,1579.60) scale(1.0396,1)" font-size="85.80">Frequency</text><text transform="translate(1278.90,1579.60) scale(1.0627,1)" font-size="85.80">(rad/s)</text>
<text transform="translate(81.00,652.32) rotate(-90) scale(1.0992,1)" font-size="85.50">Magnitude</text><text transform="translate(81.00,248.08) rotate(-90) scale(1.0074,1)" font-size="85.50">(dB)</text>
<text transform="translate(81.00,1298.01) rotate(-90) scale(1.0568,1)" font-size="85.50">Phase</text><text transform="translate(81.00,1065.10) rotate(-90) scale(1.0126,1)" font-size="85.50">(deg)</text>
</g>
</svg></body></html>
